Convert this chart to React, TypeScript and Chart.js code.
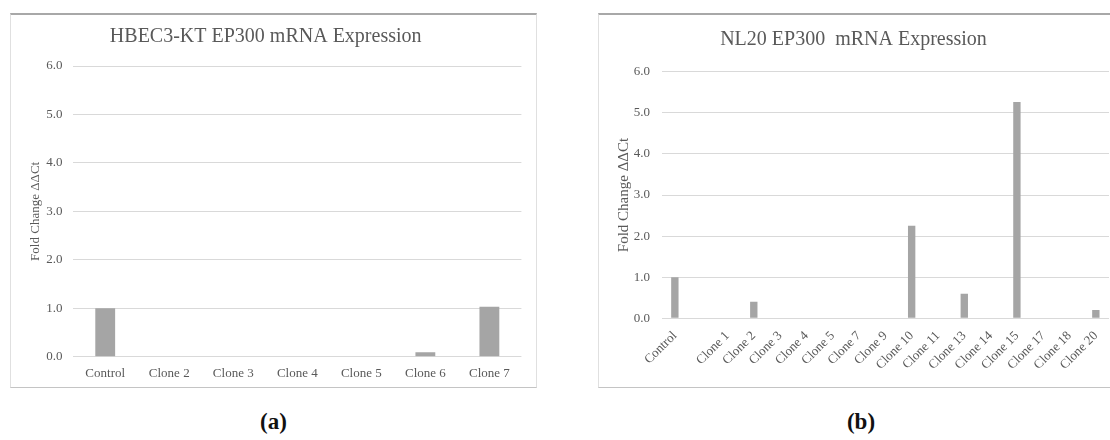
import React, { useEffect, useRef } from "react";
import { Chart, registerables } from "chart.js";

Chart.register(...registerables);

// HBEC3-KT clones
const hbecCategories = ["Control", "Clone 2", "Clone 3", "Clone 4", "Clone 5", "Clone 6", "Clone 7"];
const hbecFoldChange = [1.0, 0, 0, 0, 0, 0.09, 1.03];

// NL20 clones (the blank slot keeps the gap after the control)
const nl20Categories = [
  "Control", "", "Clone 1", "Clone 2", "Clone 3", "Clone 4", "Clone 5", "Clone 7", "Clone 9",
  "Clone 10", "Clone 11", "Clone 13", "Clone 14", "Clone 15", "Clone 17", "Clone 18", "Clone 20",
];
const nl20FoldChange = [1.0, null, 0, 0.4, 0, 0, 0, 0, 0, 2.25, 0, 0.6, 0, 5.26, 0, 0, 0.2];

const yMin = 0;
const yMax = 6;
const yStep = 1;
const yAxisTitle = "Fold Change ΔΔCt";

const SERIF = "'Liberation Serif', 'Times New Roman', serif";
const TEXT = "#595959";
const GRID = "#d9d9d9";
const BAR = "#a5a5a5";

type PanelSpec = {
  title: string;
  labels: string[];
  values: (number | null)[];
  left: number;
  top: number;
  width: number;
  height: number;
  plotLeft: number;
  plotRight: number;
  plotTop: number;
  plotBottom: number;
  titleCenterY: number;
  yTitleCenterX: number;
  yTitleSize: number;
  tickGap: number;
  barFraction: number;
  rotation: number;
  xFontSize: number;
  xLabelPad: number;
};

const panels: PanelSpec[] = [
  {
    title: "HBEC3-KT EP300 mRNA Expression",
    labels: hbecCategories,
    values: hbecFoldChange,
    left: 10,
    top: 13,
    width: 527,
    height: 375,
    plotLeft: 63.2,
    plotRight: 511.4,
    plotTop: 53,
    plotBottom: 343.7,
    titleCenterY: 23.7,
    yTitleCenterX: 25.7,
    yTitleSize: 13,
    tickGap: 10.7,
    barFraction: 0.31,
    rotation: 0,
    xFontSize: 13,
    xLabelPad: 9,
  },
  {
    title: "NL20 EP300  mRNA Expression",
    labels: nl20Categories,
    values: nl20FoldChange,
    left: 598,
    top: 13,
    width: 526,
    height: 375,
    plotLeft: 63.7,
    plotRight: 511,
    plotTop: 58.7,
    plotBottom: 305.3,
    titleCenterY: 26.3,
    yTitleCenterX: 26,
    yTitleSize: 15,
    tickGap: 11.7,
    barFraction: 0.28,
    rotation: 45,
    xFontSize: 13,
    xLabelPad: 10,
  },
];

function BarPanel({ spec }: { spec: PanelSpec }) {
  const ref = useRef<HTMLCanvasElement>(null);

  useEffect(() => {
    const titleLine = 20 * 1.2;
    const titleTop = spec.titleCenterY - titleLine / 2;
    const titleBottom = spec.plotTop - titleLine - titleTop;
    const yTitleLine = spec.yTitleSize * 1.2;

    const chart = new Chart(ref.current as HTMLCanvasElement, {
      type: "bar",
      data: {
        labels: spec.labels,
        datasets: [
          {
            data: spec.values,
            backgroundColor: BAR,
            borderWidth: 0,
            barPercentage: spec.barFraction,
            categoryPercentage: 1,
          },
        ],
      },
      options: {
        responsive: false,
        animation: false,
        devicePixelRatio: 1,
        layout: {
          padding: { left: 0, top: 0, right: spec.width - spec.plotRight, bottom: 0 },
        },
        plugins: {
          legend: { display: false },
          tooltip: { enabled: false },
          title: {
            display: true,
            text: spec.title,
            color: TEXT,
            font: { family: SERIF, size: 20, weight: "normal", lineHeight: 1.2 },
            padding: { top: titleTop, bottom: titleBottom },
          },
        },
        scales: {
          x: {
            grid: { display: false, drawTicks: false },
            border: { display: false },
            ticks: {
              color: TEXT,
              font: { family: SERIF, size: spec.xFontSize },
              padding: spec.xLabelPad,
              minRotation: spec.rotation,
              maxRotation: spec.rotation,
              autoSkip: false,
            },
            afterFit: (scale: any) => {
              scale.height = spec.height - spec.plotBottom;
            },
          },
          y: {
            min: yMin,
            max: yMax,
            grid: { color: GRID, lineWidth: 1, drawTicks: false },
            border: { display: false },
            ticks: {
              stepSize: yStep,
              color: TEXT,
              font: { family: SERIF, size: 13 },
              padding: spec.tickGap,
              callback: (v: any) => Number(v).toFixed(1),
            },
            title: {
              display: true,
              text: yAxisTitle,
              color: TEXT,
              font: { family: SERIF, size: spec.yTitleSize, lineHeight: 1.2 },
              padding: { top: spec.yTitleCenterX - yTitleLine / 2, bottom: 0 },
            },
            afterFit: (scale: any) => {
              scale.width = spec.plotLeft;
            },
          },
        },
      },
    });
    return () => chart.destroy();
  }, [spec]);

  return (
    <>
      <canvas
        ref={ref}
        width={spec.width}
        height={spec.height}
        style={{
          position: "absolute",
          left: spec.left,
          top: spec.top,
          width: spec.width,
          height: spec.height,
        }}
      />
      <div
        style={{
          position: "absolute",
          left: spec.left,
          top: spec.top,
          width: spec.width,
          height: spec.height,
          boxSizing: "border-box",
          borderTop: "2px solid #a8a8a8",
          borderLeft: "1.5px solid #e0e0e0",
          borderRight: "1.5px solid #e0e0e0",
          borderBottom: "1.5px solid #c4c4c4",
          pointerEvents: "none",
        }}
      />
    </>
  );
}

function Caption({ text, centerX }: { text: string; centerX: number }) {
  return (
    <div
      style={{
        position: "absolute",
        left: centerX - 50,
        top: 409,
        width: 100,
        height: 26,
        lineHeight: "26px",
        textAlign: "center",
        fontFamily: SERIF,
        fontWeight: "bold",
        fontSize: 23,
        color: "#111",
      }}
    >
      {text}
    </div>
  );
}

export default function App() {
  return (
    <div
      style={{
        position: "fixed",
        left: 0,
        top: 0,
        width: 1110,
        height: 440,
        overflow: "hidden",
        background: "#ffffff",
      }}
    >
      <BarPanel spec={panels[0]} />
      <BarPanel spec={panels[1]} />
      <Caption text="(a)" centerX={273.5} />
      <Caption text="(b)" centerX={861} />
    </div>
  );
}
